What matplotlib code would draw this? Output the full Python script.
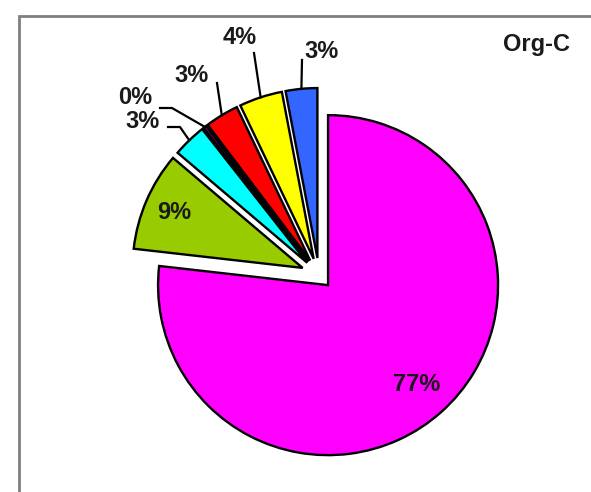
import numpy as np
import matplotlib
matplotlib.use("Agg")
from matplotlib import pyplot as plt
from matplotlib.patches import Rectangle

# slice data (clockwise from 12 o'clock)
shares = [76.8, 9.4, 3.2, 0.3, 3.2, 4.1, 3.0]
colors = ['#FF00FF', '#99CC00', '#00FFFF', '#800080', '#FF0000', '#FFFF00', '#3366FF']
explode = [0.08, 0.105, 0.1, 0.1, 0.1, 0.1, 0.1]
labels = ['%d%%' % round(v) for v in shares]
title = 'Org-C'

W, H = 591, 492
cx, cy, R = 319, 275, 170   # pie centre and radius in pixels


def px(x, y):
    # pixel position (from top-left) -> data coords of the pie axes
    return (x - cx) / R, (cy - y) / R


fig = plt.figure(figsize=(W / 100, H / 100), dpi=100)
ax = fig.add_axes([0, 0, 1, 1])

wedges, _ = ax.pie(shares, colors=colors, explode=explode, startangle=90,
                   counterclock=False,
                   wedgeprops=dict(edgecolor='black', linewidth=1.7))
ax.set_aspect('auto')
ax.set_xlim(-cx / R, (W - cx) / R)
ax.set_ylim((cy - H) / R, cy / R)
ax.set_axis_off()

font = dict(fontsize=17, fontweight='bold', family='Liberation Sans', color='#1a1a1a')

# labels inside the two big slices
for i, d in [(0, 0.78), (1, 0.82)]:
    w = wedges[i]
    a = np.deg2rad((w.theta1 + w.theta2) / 2)
    ax.text(w.center[0] + d * w.r * np.cos(a), w.center[1] + d * w.r * np.sin(a),
            labels[i], ha='center', va='center', **font)

# outside labels with leader lines: (text pos, leader start, elbow)
outside = {
    2: ((143, 121), (168, 127), (180, 127)),
    3: ((135, 98), (160, 108), (172, 108)),
    4: ((192, 75), (217, 83), None),
    5: ((240, 37), (254, 53), None),
    6: ((322, 52), (302, 60), None),
}
for i, (tpos, start, elbow) in outside.items():
    w = wedges[i]
    a = np.deg2rad((w.theta1 + w.theta2) / 2)
    ex = w.center[0] + w.r * np.cos(a)
    ey = w.center[1] + w.r * np.sin(a)
    pts = [px(*start)]
    if elbow is not None:
        pts.append(px(*elbow))
    pts.append((ex, ey))
    xs, ys = zip(*pts)
    ax.plot(xs, ys, color='black', lw=1.6)
    tx, ty = px(*tpos)
    ax.text(tx, ty, labels[i], ha='center', va='center', **font)

tx, ty = px(537, 45)
ax.text(tx, ty, title, ha='center', va='center', **font)

# plot-area border (right and bottom edges fall outside the image)
fig.add_artist(Rectangle((18.5 / W, -0.1), 1.2, 1.1 - 15.5 / H, transform=fig.transFigure,
                         fill=False, edgecolor='#7f7f7f', lw=2))

fig.savefig('out.png', dpi=100)
